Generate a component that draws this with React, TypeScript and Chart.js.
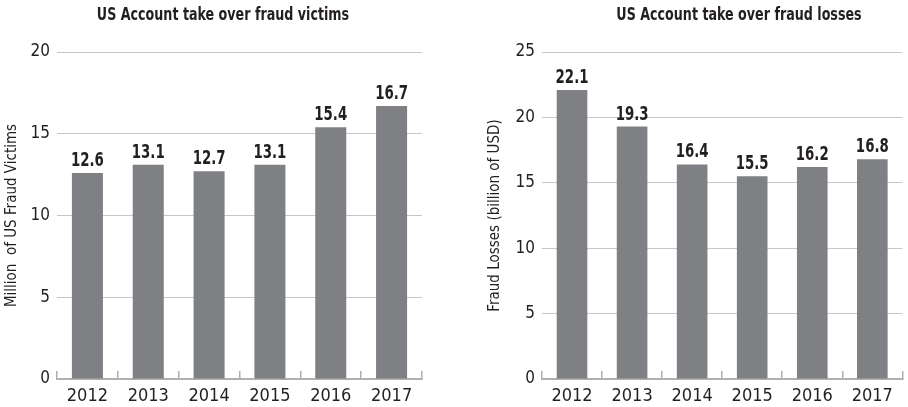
import React, { useEffect, useRef } from "react";
import { Chart, registerables } from "chart.js";

Chart.register(...registerables);

const years = ["2012", "2013", "2014", "2015", "2016", "2017"];
const victims = [12.6, 13.1, 12.7, 13.1, 15.4, 16.7];
const losses = [22.1, 19.3, 16.4, 15.5, 16.2, 16.8];
const victimsTitle = "US Account take over fraud victims";
const lossesTitle = "US Account take over fraud losses";
const victimsAxisTitle = "Million  of US Fraud Victims";
const lossesAxisTitle = "Fraud Losses (billion of USD)";
const victimsMax = 20;
const lossesMax = 25;
const tickStep = 5;

const FONT = '"Liberation Sans Narrow", "DejaVu Sans Condensed", "Arial Narrow", sans-serif';
const TEXT = "#231f20";
const BAR = "#7f8084";
const GRID = "#c6c6c6";
const AXIS = "#b0b0b0";

function condensedText(ctx: CanvasRenderingContext2D, text: string, x: number, y: number, sx: number) {
  ctx.save();
  ctx.translate(x, y);
  ctx.scale(sx, 1);
  ctx.fillText(text, 0, 0);
  ctx.restore();
}

const panelDecor = {
  id: "panelDecor",
  afterDatasetsDraw(chart: any, _args: any, opts: any) {
    const ctx = chart.ctx;
    ctx.save();
    ctx.fillStyle = TEXT;
    ctx.textAlign = "center";
    ctx.textBaseline = "alphabetic";
    ctx.font = `bold 19px ${FONT}`;
    const meta = chart.getDatasetMeta(0);
    const data = chart.data.datasets[0].data;
    meta.data.forEach((el: any, i: number) => {
      condensedText(ctx, Number(data[i]).toFixed(1), el.x, el.y - 7, 0.78);
    });
    ctx.font = `bold 17px ${FONT}`;
    condensedText(ctx, opts.text, opts.x, opts.y, 0.83);
    ctx.restore();
  },
};

type PanelProps = {
  values: number[];
  max: number;
  title: string;
  axisTitle: string;
  yWidth: number;
  padRight: number;
  titleX: number;
  axisTitlePad: number;
  left: number;
};

function Panel(p: PanelProps) {
  const ref = useRef<HTMLCanvasElement>(null);
  useEffect(() => {
    const chart = new Chart(ref.current as HTMLCanvasElement, {
      type: "bar",
      data: {
        labels: years,
        datasets: [
          {
            data: p.values,
            backgroundColor: BAR,
            borderWidth: 0,
            barPercentage: 0.51,
            categoryPercentage: 1,
          },
        ],
      },
      plugins: [panelDecor],
      options: {
        responsive: false,
        animation: false,
        layout: { padding: { top: 52, right: p.padRight, bottom: 0, left: 0 } },
        plugins: {
          legend: { display: false },
          title: { display: false },
          tooltip: { enabled: false },
          panelDecor: { text: p.title, x: p.titleX, y: 20 },
        } as any,
        scales: {
          x: {
            offset: true,
            afterFit: (s: any) => {
              s.height = 28;
            },
            grid: {
              display: true,
              drawOnChartArea: false,
              drawTicks: true,
              tickLength: -8,
              color: AXIS,
              lineWidth: 1.5,
              offset: true,
            },
            border: { display: true, color: AXIS, width: 2 },
            ticks: {
              color: TEXT,
              padding: 15,
              font: { family: FONT, size: 18 },
              maxRotation: 0,
            },
          },
          y: {
            min: 0,
            max: p.max,
            afterFit: (s: any) => {
              s.width = p.yWidth;
            },
            grid: { color: GRID, lineWidth: 1, drawTicks: false },
            border: { display: false },
            ticks: {
              stepSize: tickStep,
              color: TEXT,
              padding: 7,
              font: { family: FONT, size: 17 },
            },
            title: {
              display: true,
              text: p.axisTitle,
              color: TEXT,
              font: { family: FONT, size: 15 },
              padding: { top: p.axisTitlePad, bottom: 0 },
            },
          },
        },
      } as any,
    });
    return () => chart.destroy();
  }, []);
  return (
    <canvas
      ref={ref}
      width={454}
      height={407}
      style={{ position: "absolute", left: p.left, top: 0, width: 454, height: 407 }}
    />
  );
}

export default function App() {
  return (
    <div
      style={{
        position: "absolute",
        left: 0,
        top: 0,
        width: 908,
        height: 407,
        background: "#ffffff",
      }}
    >
      <Panel
        values={victims}
        max={victimsMax}
        title={victimsTitle}
        axisTitle={victimsAxisTitle}
        yWidth={57}
        padRight={32}
        titleX={223}
        axisTitlePad={3}
        left={0}
      />
      <Panel
        values={losses}
        max={lossesMax}
        title={lossesTitle}
        axisTitle={lossesAxisTitle}
        yWidth={88}
        padRight={1}
        titleX={285}
        axisTitlePad={32}
        left={454}
      />
    </div>
  );
}
